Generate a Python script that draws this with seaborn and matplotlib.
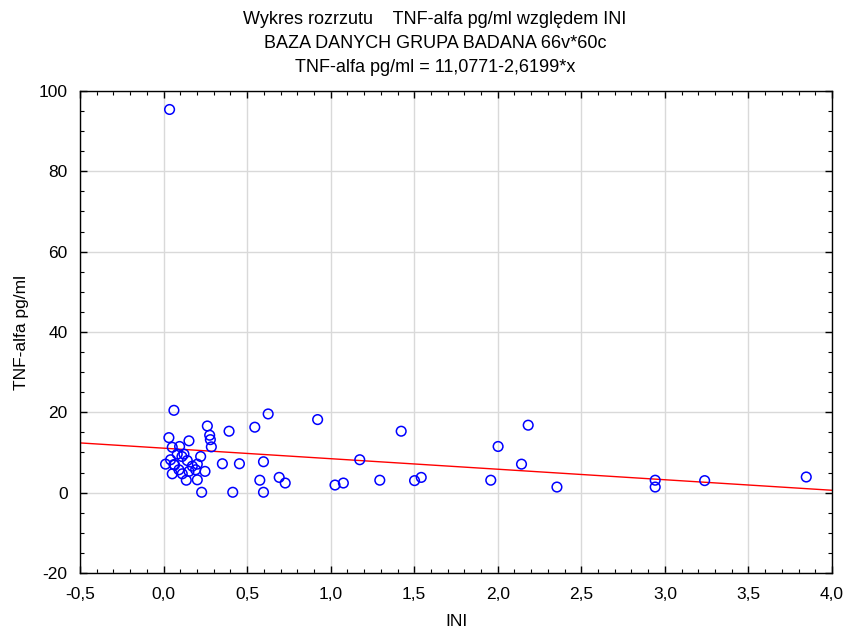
import matplotlib
matplotlib.use("Agg")
import matplotlib.pyplot as plt
import seaborn as sns
import numpy as np
import pandas as pd
from matplotlib.ticker import FuncFormatter, MultipleLocator

# Data
ini = [0.036, 0.062, 0.626, 0.922, 0.262, 0.546, 0.392, 0.276, 0.032, 0.280,
       0.152, 0.286, 0.052, 0.096, 0.082, 0.110, 0.222, 0.042, 0.142, 0.012,
       0.062, 0.172, 0.202, 0.352, 0.454, 0.598, 0.092, 0.152, 0.192, 0.248,
       0.052, 0.112, 0.136, 0.202, 0.576, 0.692, 0.728, 0.228, 0.414, 0.598,
       1.422, 2.002, 2.182, 1.174, 2.142, 1.026, 1.076, 1.294, 1.502, 1.542,
       1.958, 2.354, 2.942, 2.942, 3.238, 3.846, 0.122, 0.066]
tnf = [95.4, 20.5, 19.6, 18.2, 16.6, 16.3, 15.3, 14.3, 13.7, 13.2,
       12.9, 11.4, 11.3, 11.5, 9.6, 9.0, 9.0, 8.2, 8.0, 7.1,
       7.0, 6.6, 7.1, 7.2, 7.2, 7.7, 5.7, 5.3, 5.7, 5.3,
       4.7, 4.7, 3.1, 3.2, 3.1, 3.8, 2.4, 0.1, 0.1, 0.1,
       15.3, 11.5, 16.8, 8.2, 7.1, 1.9, 2.4, 3.1, 3.0, 3.8,
       3.1, 1.4, 3.1, 1.4, 3.0, 3.9, 9.6, 6.9]
intercept = 11.0771
slope = -2.6199

title_lines = ["Wykres rozrzutu    TNF-alfa pg/ml względem INI",
               "BAZA DANYCH GRUPA BADANA 66v*60c",
               "TNF-alfa pg/ml = 11,0771-2,6199*x"]
x_label = "INI"
y_label = "TNF-alfa pg/ml"
x_limits = (-0.5, 4.0)
y_limits = (-20, 100)

df = pd.DataFrame({"INI": ini, "TNF": tnf})

sns.set_style("white")
plt.rcParams["font.family"] = ["Liberation Sans", "DejaVu Sans"]
plt.rcParams["text.color"] = "black"
plt.rcParams["axes.labelcolor"] = "black"
plt.rcParams["xtick.color"] = "black"
plt.rcParams["ytick.color"] = "black"

fig = plt.figure(figsize=(8.46, 6.30), dpi=100)
ax = fig.add_axes([80/846, 1-573/630, (832-80)/846, (573-91)/630])

# regression line
xl = np.array(x_limits)
line_df = pd.DataFrame({"x": xl, "y": intercept + slope * xl})
sns.lineplot(data=line_df, x="x", y="y", ax=ax, color="red", linewidth=1.0, zorder=2)

sns.scatterplot(data=df, x="INI", y="TNF", ax=ax, marker="o", s=48,
                facecolors="none", edgecolor="blue", linewidth=1.1, zorder=3)

ax.set_xlim(*x_limits)
ax.set_ylim(*y_limits)
ax.xaxis.set_major_locator(MultipleLocator(0.5))
ax.xaxis.set_minor_locator(MultipleLocator(0.1))
ax.yaxis.set_major_locator(MultipleLocator(20))
ax.yaxis.set_minor_locator(MultipleLocator(5))
ax.xaxis.set_major_formatter(FuncFormatter(lambda v, p: f"{v:.1f}".replace(".", ",")))
ax.yaxis.set_major_formatter(FuncFormatter(lambda v, p: f"{v:.0f}"))
ax.grid(True, which="major", color="#d9d9d9", linewidth=1.0, zorder=0)
ax.set_axisbelow(True)
ax.tick_params(which="both", direction="in", top=True, right=True, bottom=True, left=True,
               color="black", labelcolor="black", labelsize=12.5)
ax.tick_params(which="major", length=5, width=1)
ax.tick_params(which="minor", length=3, width=0.8)
ax.tick_params(axis="x", which="major", pad=10)
ax.tick_params(axis="y", which="major", pad=9)
for s in ax.spines.values():
    s.set_color("black")
    s.set_linewidth(1.0)

ax.set_xlabel(x_label, fontsize=12.5, labelpad=9)
ax.set_ylabel(y_label, fontsize=12.5, labelpad=7)

for i, t in enumerate(title_lines):
    fig.text(435/846, 1 - (20 + 24*i)/630, t, ha="center", va="center", fontsize=13,
             color="black")

fig.savefig("out.png", dpi=100)
